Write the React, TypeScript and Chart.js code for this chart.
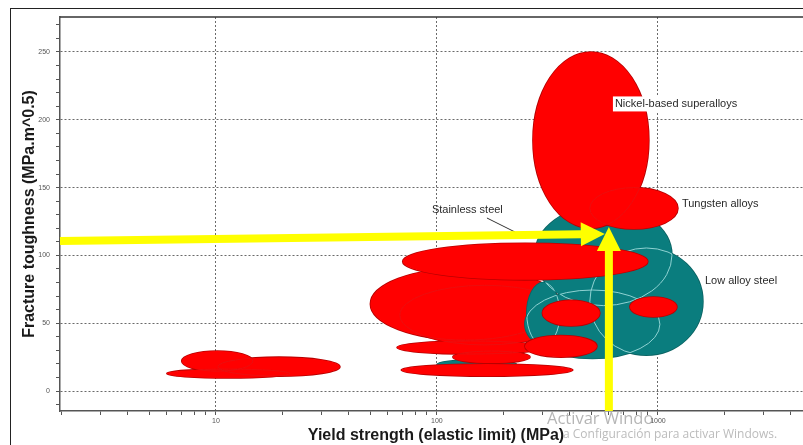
import React, { useEffect, useRef } from "react";
import { Chart, registerables } from "chart.js";

Chart.register(...registerables);

const FONT = "'Liberation Sans', Arial, Helvetica, sans-serif";

// ---- axes ----
const xAxisMin = 1.97;
const xAxisMax = 4980;
const yAxisMin = -14.7;
const yAxisMax = 275.8;
const xTickValues = [2, 3, 4, 5, 6, 7, 8, 9, 10, 20, 30, 40, 50, 60, 70, 80, 90, 100, 200, 300, 400, 500, 600, 700, 800, 900, 1000, 2000, 3000, 4000];
const xTickLabels = [10, 100, 1000];
const yTickValues = [-10, 0, 10, 20, 30, 40, 50, 60, 70, 80, 90, 100, 110, 120, 130, 140, 150, 160, 170, 180, 190, 200, 210, 220, 230, 240, 250, 260, 270];
const yTickLabels = [0, 50, 100, 150, 200, 250];

// ---- material envelopes (yield strength MPa, fracture toughness MPa.m^0.5), in drawing order ----
const bubbleFamily = ["red", "red", "red", "teal", "red", "red", "red", "red", "red", "teal", "teal", "teal", "teal", "red", "red", "red", "red", "red", "red"];
const bubbleXLow = [6, 10.2, 7, 100, 69, 66, 118, 50, 68, 250, 492, 277, 255, 70, 250, 747, 300, 272, 492];
const bubbleXHigh = [21.6, 36.4, 14.7, 230, 412, 308, 264, 360, 400, 1021, 1598, 1157, 360, 900, 530, 1219, 546, 910, 1232];
const bubbleYLow = [9.6, 11, 14.7, 16, 11, 27.3, 20.6, 37.6, 34, 24, 26.5, 63, 34, 82, 25, 54.6, 48, 120, 119.5];
const bubbleYHigh = [16.2, 25, 29.5, 23, 20, 36.9, 29.5, 90.7, 78, 74.5, 105.5, 137, 80, 109, 41, 69.3, 67, 250, 150];

// ---- labels ----
const labelText = ["Nickel-based superalloys", "Tungsten alloys", "Stainless steel", "Low alloy steel"];
const labelX = [639, 1284, 94.9, 1632];
const labelY = [211.7, 137.9, 133.5, 81.1];
const labelBoxed = [true, false, false, false];

// leader line for "Stainless steel"
const leaderX = [168.4, 225.4];
const leaderY = [127.6, 117.3];

// ---- yellow arrows ----
const arrowFromX = [1.97, 600];
const arrowFromY = [110.6, -14.7];
const arrowToX = [575, 600];
const arrowToY = [115.8, 120.9];

const familyStyle: Record<string, { fill: string; edge: string; inner: string }> = {
  red: { fill: "#ff0000", edge: "#b80000", inner: "rgba(200,40,40,0.35)" },
  teal: { fill: "#0a7d7e", edge: "#0b6464", inner: "#8fd2d2" },
};

const materialPlugin = {
  id: "materials",
  beforeDatasetsDraw(chart: any) {
    const { ctx, chartArea, scales } = chart;
    const xs = scales.x;
    const ys = scales.y;
    const add = (i: number) => {
      const x1 = xs.getPixelForValue(bubbleXLow[i]);
      const x2 = xs.getPixelForValue(bubbleXHigh[i]);
      const y1 = ys.getPixelForValue(bubbleYLow[i]);
      const y2 = ys.getPixelForValue(bubbleYHigh[i]);
      const cx = (x1 + x2) / 2;
      const cy = (y1 + y2) / 2;
      const rx = Math.abs(x2 - x1) / 2;
      const ry = Math.abs(y2 - y1) / 2;
      ctx.moveTo(cx + rx, cy);
      ctx.ellipse(cx, cy, rx, ry, 0, 0, Math.PI * 2);
    };
    const groups: number[][] = [];
    bubbleFamily.forEach((f, i) => {
      if (i > 0 && bubbleFamily[i - 1] === f) groups[groups.length - 1].push(i);
      else groups.push([i]);
    });
    ctx.save();
    ctx.beginPath();
    ctx.rect(chartArea.left, chartArea.top, chartArea.right - chartArea.left, chartArea.bottom - chartArea.top);
    ctx.clip();
    for (const g of groups) {
      const st = familyStyle[bubbleFamily[g[0]]];
      ctx.lineWidth = 1.6;
      ctx.strokeStyle = st.edge;
      g.forEach((i) => {
        ctx.beginPath();
        add(i);
        ctx.stroke();
      });
      ctx.fillStyle = st.fill;
      ctx.beginPath();
      g.forEach(add);
      ctx.fill();
      ctx.lineWidth = 1;
      ctx.strokeStyle = st.inner;
      g.forEach((i) => {
        const others = g.filter((j) => j !== i);
        if (!others.length) return;
        ctx.save();
        ctx.beginPath();
        others.forEach(add);
        ctx.clip();
        ctx.beginPath();
        add(i);
        ctx.stroke();
        ctx.restore();
      });
    }
    ctx.restore();
  },
  afterDatasetsDraw(chart: any) {
    const { ctx, chartArea, scales } = chart;
    const xs = scales.x;
    const ys = scales.y;
    ctx.save();
    // leader line
    ctx.strokeStyle = "#333";
    ctx.lineWidth = 1;
    ctx.beginPath();
    ctx.moveTo(xs.getPixelForValue(leaderX[0]), ys.getPixelForValue(leaderY[0]));
    ctx.lineTo(xs.getPixelForValue(leaderX[1]), ys.getPixelForValue(leaderY[1]));
    ctx.stroke();
    // labels
    ctx.font = `11px ${FONT}`;
    ctx.textBaseline = "middle";
    ctx.textAlign = "left";
    labelText.forEach((t, i) => {
      const px = xs.getPixelForValue(labelX[i]);
      const py = ys.getPixelForValue(labelY[i]);
      if (labelBoxed[i]) {
        const w = ctx.measureText(t).width;
        ctx.fillStyle = "#ffffff";
        ctx.fillRect(px - 2, py - 7.5, w + 4, 15);
      }
      ctx.fillStyle = "#2a2a2a";
      ctx.fillText(t, px, py);
    });
    // arrows
    ctx.beginPath();
    ctx.rect(chartArea.left - 4, chartArea.top, chartArea.right - chartArea.left + 4, chartArea.bottom - chartArea.top);
    ctx.clip();
    ctx.fillStyle = "#ffff00";
    ctx.strokeStyle = "#ffff00";
    arrowFromX.forEach((_, i) => {
      const x0 = xs.getPixelForValue(arrowFromX[i]);
      const y0 = ys.getPixelForValue(arrowFromY[i]);
      const x1 = xs.getPixelForValue(arrowToX[i]);
      const y1 = ys.getPixelForValue(arrowToY[i]);
      const len = Math.hypot(x1 - x0, y1 - y0);
      const ux = (x1 - x0) / len;
      const uy = (y1 - y0) / len;
      const headLen = 24;
      const headHalf = 12;
      const bx = x1 - ux * headLen;
      const by = y1 - uy * headLen;
      ctx.lineWidth = 8;
      ctx.lineCap = "butt";
      ctx.beginPath();
      ctx.moveTo(x0, y0);
      ctx.lineTo(bx + ux, by + uy);
      ctx.stroke();
      ctx.beginPath();
      ctx.moveTo(x1, y1);
      ctx.lineTo(bx - uy * headHalf, by + ux * headHalf);
      ctx.lineTo(bx + uy * headHalf, by - ux * headHalf);
      ctx.closePath();
      ctx.fill();
    });
    ctx.restore();
  },
  afterDraw(chart: any) {
    const { ctx, chartArea } = chart;
    ctx.save();
    ctx.strokeStyle = "#333";
    ctx.lineWidth = 1.5;
    ctx.beginPath();
    ctx.moveTo(chartArea.left, chartArea.top);
    ctx.lineTo(chartArea.right, chartArea.top);
    ctx.stroke();
    ctx.restore();
  },
};

const near = (list: number[], v: number) => list.some((t) => Math.abs(t - v) < 1e-6 * Math.max(1, Math.abs(t)));

export default function App() {
  const ref = useRef<HTMLCanvasElement | null>(null);

  useEffect(() => {
    if (!ref.current) return;
    const centers = bubbleXLow.map((lo, i) => ({
      x: Math.sqrt(lo * bubbleXHigh[i]),
      y: (bubbleYLow[i] + bubbleYHigh[i]) / 2,
    }));
    const chart = new Chart(ref.current, {
      type: "scatter",
      data: {
        datasets: [
          {
            label: "Materials",
            data: centers,
            pointRadius: 0,
            pointHoverRadius: 0,
            backgroundColor: "rgba(0,0,0,0)",
            borderColor: "rgba(0,0,0,0)",
          },
        ],
      },
      options: {
        responsive: false,
        animation: false,
        devicePixelRatio: 1,
        events: [],
        layout: { padding: { top: 17, left: 0, right: 0, bottom: 0 } },
        plugins: {
          legend: { display: false },
          tooltip: { enabled: false },
        },
        scales: {
          x: {
            type: "logarithmic",
            position: "bottom",
            min: xAxisMin,
            max: xAxisMax,
            afterBuildTicks: (s: any) => {
              s.ticks = xTickValues.map((v) => ({ value: v }));
            },
            afterFit: (s: any) => {
              s.height = 34;
            },
            ticks: {
              autoSkip: false,
              maxRotation: 0,
              minRotation: 0,
              padding: 2,
              color: "#555",
              font: { size: 7, family: FONT },
              callback: (v: any) => (near(xTickLabels, Number(v)) ? String(Math.round(Number(v))) : ""),
            },
            grid: {
              color: (c: any) => (c.tick && near(xTickLabels, c.tick.value) ? "#6a6a6a" : "rgba(0,0,0,0)"),
              tickColor: "#555",
              tickLength: 4,
              lineWidth: 1,
            },
            border: { display: true, color: "#555", width: 1.5, dash: [2, 2] },
            title: {
              display: true,
              text: "Yield strength (elastic limit) (MPa)",
              color: "#1a1a1a",
              font: { size: 16, weight: "bold", family: FONT },
              padding: { top: 0, bottom: 0 },
            },
          },
          y: {
            type: "linear",
            position: "left",
            min: yAxisMin,
            max: yAxisMax,
            afterBuildTicks: (s: any) => {
              s.ticks = yTickValues.map((v) => ({ value: v }));
            },
            afterFit: (s: any) => {
              s.width = 60;
            },
            ticks: {
              autoSkip: false,
              padding: 6,
              color: "#555",
              font: { size: 7, family: FONT },
              callback: (v: any) => (near(yTickLabels, Number(v)) ? String(Math.round(Number(v))) : ""),
            },
            grid: {
              color: (c: any) => (c.tick && near(yTickLabels, c.tick.value) ? "#6a6a6a" : "rgba(0,0,0,0)"),
              tickColor: "#555",
              tickLength: 4,
              lineWidth: 1,
            },
            border: { display: true, color: "#555", width: 1.5, dash: [2, 2] },
            title: {
              display: true,
              text: "Fracture toughness (MPa.m^0.5)",
              color: "#1a1a1a",
              font: { size: 16, weight: "bold", family: FONT },
              padding: { top: 20, bottom: 0 },
            },
          },
        },
      },
      plugins: [materialPlugin],
    } as any);
    return () => chart.destroy();
  }, []);

  return (
    <div style={{ position: "fixed", left: 0, top: 0, width: 803, height: 445, overflow: "hidden", background: "#fff" }}>
      <div
        style={{
          position: "absolute",
          left: 10,
          top: 8,
          width: 1000,
          height: 1000,
          borderLeft: "1.5px solid #222",
          borderTop: "1.5px solid #222",
        }}
      />
      <canvas ref={ref} width={812} height={445} style={{ position: "absolute", left: 0, top: 0, width: 812, height: 445 }} />
      <div
        style={{
          position: "absolute",
          left: 547,
          top: 410,
          fontFamily: "'Open Sans', 'Noto Sans', sans-serif",
          fontSize: 16.5,
          lineHeight: "16px",
          color: "rgba(120,120,120,0.55)",
          whiteSpace: "nowrap",
        }}
      >
        Activar Windo
      </div>
      <div
        style={{
          position: "absolute",
          left: 563,
          top: 428,
          fontFamily: "'Open Sans', 'Noto Sans', sans-serif",
          fontSize: 12,
          lineHeight: "12px",
          color: "rgba(120,120,120,0.5)",
          whiteSpace: "nowrap",
        }}
      >
        a Configuración para activar Windows.
      </div>
    </div>
  );
}
